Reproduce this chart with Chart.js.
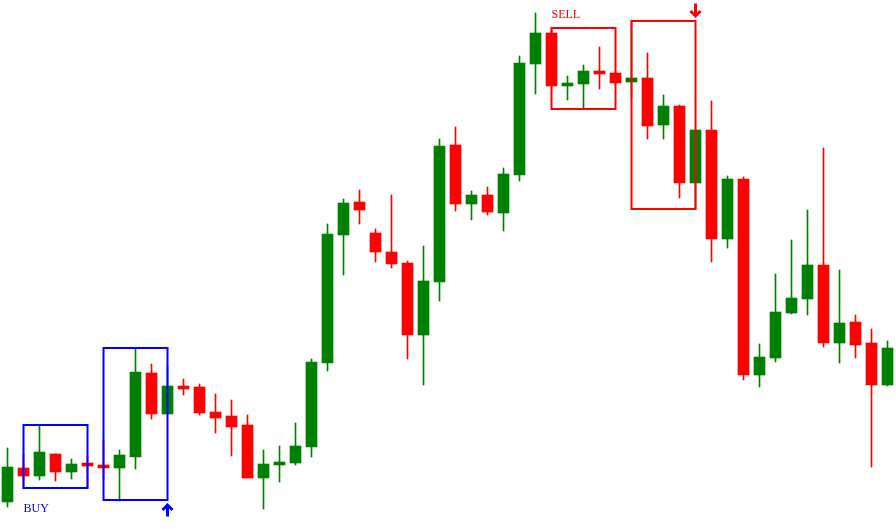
<!DOCTYPE html>
<html>
<head>
<meta charset="utf-8">
<script src="https://cdn.jsdelivr.net/npm/chart.js@4.4.1/dist/chart.umd.min.js"></script>
<style>
  html, body { margin: 0; padding: 0; background: #ffffff; }
  #wrap { width: 896px; height: 529px; position: relative; }
</style>
</head>
<body>
<div id="wrap"><canvas id="candles"></canvas></div>
<script>
/* ------------------------------------------------------------
   candle data (price units)
------------------------------------------------------------ */
const openPrices  = [27, 61, 53, 75, 57, 66, 64, 61, 72, 156, 115, 143, 142, 117, 113, 104, 51, 64, 66, 82,
                     166, 294, 327, 296, 277, 266, 194, 247, 384, 325, 334, 316, 354, 465, 496, 443, 445, 458, 456, 447,
                     451, 404, 423, 346, 399, 290, 350, 154, 171, 216, 230, 264, 186, 207, 186, 144];
const highPrices  = [81, 75, 104, 75, 70, 73, 89, 79, 180, 165, 162, 150, 145, 135, 129, 114, 79, 83, 106, 170,
                     305, 330, 339, 300, 334, 268, 283, 390, 402, 338, 342, 361, 473, 516, 499, 453, 464, 482, 457, 508,
                     476, 434, 424, 399, 428, 353, 352, 185, 255, 289, 319, 381, 259, 214, 200, 188];
const lowPrices   = [22, 41, 49, 48, 50, 42, 50, 28, 60, 110, 115, 134, 114, 96, 73, 51, 20, 47, 64, 72,
                     158, 254, 305, 267, 261, 170, 144, 228, 318, 309, 314, 298, 348, 435, 443, 429, 420, 440, 445, 432,
                     390, 390, 331, 320, 267, 281, 149, 142, 167, 215, 214, 182, 166, 171, 62, 143];
const closePrices = [62, 53, 77, 57, 65, 63, 61, 74, 157, 115, 143, 140, 116, 111, 102, 51, 65, 67, 83, 167,
                     295, 326, 319, 277, 265, 194, 248, 383, 325, 334, 317, 355, 466, 496, 443, 446, 458, 455, 446, 451,
                     403, 423, 346, 399, 290, 350, 154, 172, 217, 231, 264, 186, 206, 184, 144, 181];

/* signal boxes: first / last candle index, top / bottom price */
const signalLabels = ["BUY", "BUY", "SELL", "SELL"];
const signalFrom   = [1, 6, 34, 39];
const signalTo     = [5, 10, 38, 43];
const signalTop    = [104, 181, 501, 508];
const signalBottom = [41, 29, 420, 320];

const UP = "#008000";
const DOWN = "#ff0000";
const BLUE = "#0000ff";

const candleColors = openPrices.map((o, i) => closePrices[i] >= o ? UP : DOWN);
const bodies = openPrices.map((o, i) => ({ x: i, y: [o, closePrices[i]] }));
const wicks = lowPrices.map((l, i) => ({ x: i, y: [l, highPrices[i]] }));

/* ------------------------------------------------------------
   boxes, arrows and labels drawn on top of the candles
------------------------------------------------------------ */
const signalPlugin = {
    id: "signals",
    afterDatasetsDraw(chart) {
        const ctx = chart.ctx;
        const xs = chart.scales.x;
        const ys = chart.scales.y;

        ctx.save();
        signalLabels.forEach((label, k) => {
            const isBuy = label === "BUY";
            const color = isBuy ? BLUE : DOWN;
            const left = xs.getPixelForValue(signalFrom[k]);
            const right = xs.getPixelForValue(signalTo[k]);
            const top = ys.getPixelForValue(signalTop[k]);
            const bottom = ys.getPixelForValue(signalBottom[k]);

            ctx.strokeStyle = color;
            ctx.lineWidth = 2;
            ctx.strokeRect(left, top, right - left, bottom - top);

            // first box of each pair carries the text, second one the arrow
            if (k % 2 === 0) {
                ctx.fillStyle = color;
                ctx.font = "12px 'Liberation Serif', serif";
                ctx.textAlign = "left";
                ctx.textBaseline = "alphabetic";
                if (isBuy) ctx.fillText(label, left, bottom + 24);
                else ctx.fillText(label, left, top - 10);
            } else {
                const ax = right;
                ctx.strokeStyle = color;
                ctx.lineWidth = 3;
                ctx.lineCap = "butt";
                ctx.lineJoin = "miter";
                ctx.beginPath();
                if (isBuy) {
                    const tip = bottom + 4.5;
                    ctx.moveTo(ax, tip + 1);
                    ctx.lineTo(ax, tip + 12);
                    ctx.moveTo(ax - 5, tip + 5.5);
                    ctx.lineTo(ax, tip + 0.5);
                    ctx.lineTo(ax + 5, tip + 5.5);
                } else {
                    const tip = 16.5;
                    ctx.moveTo(ax, tip - 1);
                    ctx.lineTo(ax, tip - 13);
                    ctx.moveTo(ax - 5, tip - 5.5);
                    ctx.lineTo(ax, tip - 0.5);
                    ctx.lineTo(ax + 5, tip - 5.5);
                }
                ctx.stroke();
            }
        });
        ctx.restore();
    }
};

const chart = new Chart(document.getElementById("candles"), {
    type: "bar",
    data: {
        datasets: [
            {
                label: "Body",
                data: bodies,
                backgroundColor: candleColors,
                barThickness: 11,
                borderWidth: 0,
                grouped: false,
                order: 0
            },
            {
                label: "Wick",
                data: wicks,
                backgroundColor: candleColors,
                barThickness: 1,
                borderWidth: 0,
                grouped: false,
                order: 1
            }
        ]
    },
    options: {
        responsive: true,
        maintainAspectRatio: false,
        animation: false,
        layout: { padding: 0 },
        plugins: {
            legend: { display: false },
            tooltip: { enabled: false }
        },
        scales: {
            x: {
                type: "linear",
                display: false,
                offset: false,
                min: -0.46875,
                max: 55.53125
            },
            y: {
                display: false,
                min: 0,
                max: 529
            }
        }
    },
    plugins: [signalPlugin]
});
</script>
</body>
</html>
